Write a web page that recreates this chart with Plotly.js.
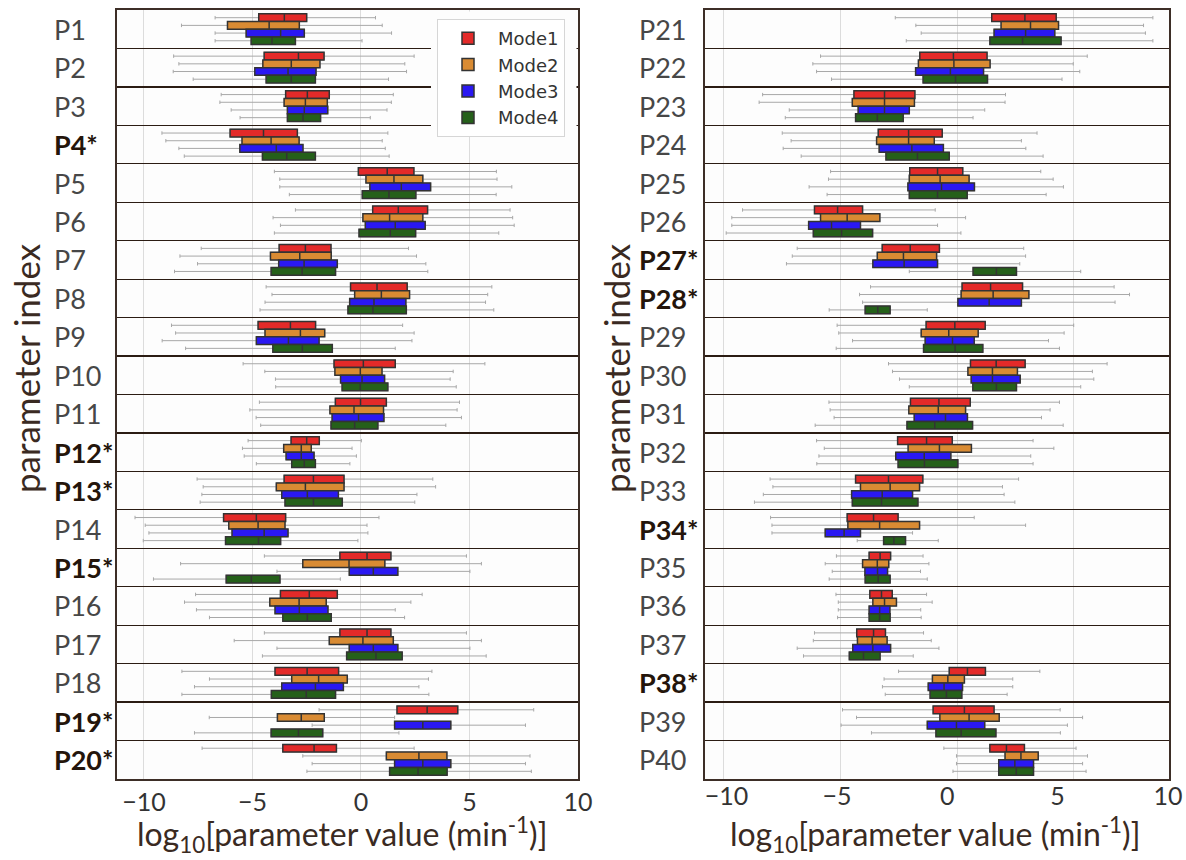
<!DOCTYPE html>
<html>
<head>
<meta charset="utf-8">
<script src="https://cdn.plot.ly/plotly-3.0.1.min.js"></script>
<style>
  html, body { margin: 0; padding: 0; background: #ffffff; }
  #chart { width: 1186px; height: 860px; }
</style>
</head>
<body>
<div id="chart"></div>
<script>
// ---------------- data ----------------
const params = ['P1','P2','P3','P4','P5','P6','P7','P8','P9','P10',
                'P11','P12','P13','P14','P15','P16','P17','P18','P19','P20',
                'P21','P22','P23','P24','P25','P26','P27','P28','P29','P30',
                'P31','P32','P33','P34','P35','P36','P37','P38','P39','P40'];
const starred = ['P4','P12','P13','P15','P19','P20','P27','P28','P34','P38'];
const modes = ['Mode1','Mode2','Mode3','Mode4'];
const xTicks = [-10, -5, 0, 5, 10];

// log10 parameter value statistics, P1..P40
const mode1_q1  = [-4.71,-4.46,-3.47,-6.03,-0.12,0.54,-3.77,-0.48,-4.74,-1.24,-1.18,-3.22,-3.54,-6.33,-0.97,-3.71,-0.97,-3.96,1.66,-3.60,
                   1.48,-1.60,-4.42,-3.38,-2.03,-6.11,-3.21,0.21,-1.33,0.57,-2.00,-2.55,-4.35,-4.71,-3.77,-3.74,-4.30,-0.34,-1.03,1.40];
const mode1_med = [-3.53,-2.88,-2.47,-4.49,1.21,1.72,-2.56,0.74,-3.25,0.11,-0.02,-2.50,-2.19,-4.82,0.28,-2.38,0.28,-2.48,3.05,-2.16,
                   2.90,-0.16,-3.11,-2.08,-0.84,-5.12,-2.01,1.43,-0.10,1.67,-0.78,-1.31,-2.94,-3.58,-3.30,-3.24,-3.58,0.44,0.31,2.11];
const mode1_q3  = [-2.50,-1.70,-1.46,-2.93,2.44,3.07,-1.38,2.13,-2.09,1.58,1.17,-1.92,-0.78,-3.47,1.38,-1.09,1.38,-1.03,4.46,-1.13,
                   4.24,1.28,-1.81,-0.64,0.24,-4.05,-0.76,2.80,1.20,2.91,0.56,-0.21,-1.47,-2.53,-2.85,-2.78,-3.07,1.21,1.58,2.88];
const mode1_lo  = [-6.72,-8.63,-6.44,-9.17,-3.99,-3.02,-7.36,-4.37,-8.73,-5.43,-4.68,-5.20,-7.55,-10.41,-4.45,-7.62,-4.45,-8.25,-1.93,-7.32,
                   -2.65,-5.85,-8.33,-7.49,-5.42,-9.19,-6.85,-3.71,-5.14,-2.94,-5.49,-6.02,-8.01,-7.99,-5.17,-5.19,-6.11,-2.51,-4.91,-0.57];
const mode1_hi  = [0.67,2.45,1.49,1.24,6.24,6.87,2.19,6.03,1.92,5.71,4.54,0.02,3.31,0.83,4.86,2.82,4.86,3.27,7.96,2.45,
                   8.38,5.57,2.07,3.42,3.58,-0.94,2.85,6.72,4.99,6.42,4.38,3.25,2.63,0.73,-1.46,-1.31,-1.44,3.54,4.41,5.09];

const mode2_q1  = [-6.15,-4.52,-3.54,-5.48,0.23,0.09,-4.17,-0.29,-4.42,-1.20,-1.43,-3.56,-3.90,-6.09,-2.68,-4.20,-1.46,-3.19,-3.85,1.17,
                   1.88,-1.66,-4.49,-3.45,-2.05,-5.85,-3.42,0.17,-1.54,0.46,-2.07,-2.10,-4.14,-4.68,-4.05,-3.61,-4.27,-1.06,-0.74,2.05];
const mode2_med = [-4.23,-3.21,-2.56,-4.14,1.52,1.32,-2.82,0.94,-2.79,-0.03,-0.32,-2.75,-2.56,-4.74,-0.55,-2.85,0.09,-1.95,-2.75,2.67,
                   3.14,-0.14,-3.11,-2.08,-0.73,-4.71,-2.30,1.54,-0.36,1.51,-0.81,-0.76,-2.87,-3.32,-3.42,-3.11,-3.64,-0.40,0.51,2.73];
const mode2_q3  = [-2.84,-1.89,-1.55,-2.85,2.85,2.85,-1.37,2.24,-1.67,0.97,1.04,-2.29,-0.78,-3.50,1.10,-1.60,1.49,-0.63,-1.69,3.96,
                   4.34,1.41,-1.83,-0.98,0.51,-3.31,-0.88,3.07,0.90,2.58,0.36,0.61,-1.61,-1.61,-2.93,-2.60,-3.00,0.31,1.80,3.47];
const mode2_lo  = [-8.27,-8.39,-6.50,-8.99,-3.74,-4.05,-8.34,-4.10,-8.54,-4.43,-5.12,-5.46,-7.27,-9.94,-8.31,-8.13,-5.84,-6.98,-6.99,-2.68,
                   -1.77,-6.18,-8.48,-7.11,-5.51,-9.65,-7.06,-4.18,-5.07,-2.77,-5.44,-5.69,-7.89,-7.93,-5.65,-5.09,-6.16,-3.13,-4.31,-0.03];
const mode2_hi  = [0.98,2.02,1.40,0.98,6.27,6.99,2.56,5.84,2.45,4.25,4.43,-0.41,3.44,0.28,5.55,2.30,5.55,3.11,1.55,7.79,
                   7.98,4.97,2.05,2.75,4.11,0.36,2.93,7.38,4.58,5.79,3.98,4.14,1.94,2.93,-1.21,-1.07,-1.11,2.38,5.37,5.58];

const mode3_q1  = [-5.29,-4.89,-3.39,-5.58,0.41,0.20,-3.79,-0.52,-4.82,-0.94,-1.33,-3.45,-3.65,-5.94,-0.54,-3.96,-0.54,-3.65,1.55,1.55,
                   1.58,-1.78,-4.24,-3.34,-2.11,-6.36,-3.61,0.03,-1.37,0.60,-1.84,-2.63,-4.52,-5.65,-3.95,-3.77,-4.47,-1.24,-1.28,1.78];
const mode3_med = [-3.70,-3.36,-2.61,-3.90,1.86,1.58,-2.62,0.60,-3.34,0.05,-0.11,-2.75,-2.47,-4.46,0.57,-2.84,0.57,-2.10,2.85,2.85,
                   2.93,-0.29,-3.11,-1.94,-0.67,-5.38,-2.27,1.37,-0.20,1.51,-0.50,-1.41,-3.21,-4.84,-3.41,-3.32,-3.61,-0.56,-0.03,2.47];
const mode3_q3  = [-2.61,-2.07,-1.53,-2.67,3.21,2.96,-1.09,2.07,-1.93,1.09,1.06,-2.16,-1.04,-3.36,1.70,-1.52,1.70,-0.81,4.14,4.14,
                   4.18,1.13,-2.05,-0.59,0.74,-4.14,-0.84,2.75,0.73,2.70,0.44,-0.27,-1.91,-4.14,-2.98,-2.88,-2.85,0.23,1.18,3.27];
const mode3_lo  = [-6.72,-8.65,-5.98,-8.39,-3.74,-3.71,-7.53,-4.42,-9.16,-3.94,-4.83,-5.38,-7.33,-9.77,-3.87,-7.58,-3.87,-7.67,-2.25,-2.25,
                   -1.54,-6.02,-7.19,-7.45,-6.34,-9.65,-7.31,-4.05,-4.48,-2.47,-5.27,-5.92,-8.30,-7.93,-5.35,-5.09,-6.85,-3.20,-4.97,-0.03];
const mode3_hi  = [1.41,2.10,1.20,1.12,6.95,7.06,2.99,5.74,2.35,4.11,4.63,-0.21,2.58,0.32,5.02,1.58,5.02,2.67,7.58,7.58,
                   8.06,5.25,1.18,2.94,4.55,-0.84,2.68,6.76,3.91,5.85,3.61,3.15,2.01,-1.91,-1.57,-1.56,-0.78,2.38,4.72,5.37];

const mode4_q1  = [-5.06,-4.37,-3.39,-4.54,0.06,-0.09,-4.14,-0.60,-4.06,-0.87,-1.38,-3.19,-3.50,-6.24,-6.21,-3.60,-0.66,-4.13,-4.14,1.32,
                   1.40,-1.46,-4.35,-3.05,-2.05,-6.16,0.68,-3.94,-1.44,0.67,-2.15,-2.53,-4.49,-3.15,-3.94,-3.77,-4.62,-1.16,-0.91,1.78];
const mode4_med = [-4.10,-3.21,-2.67,-3.42,1.29,1.35,-2.71,0.55,-2.70,-0.03,-0.29,-2.61,-2.19,-4.72,-5.05,-2.47,0.69,-2.52,-2.88,2.63,
                   2.80,-0.07,-3.42,-1.70,-0.84,-4.95,1.68,-3.40,-0.09,1.68,-0.96,-1.40,-3.24,-2.71,-3.38,-3.32,-4.01,-0.46,0.17,2.53];
const mode4_q3  = [-3.02,-2.10,-1.86,-2.10,2.53,2.52,-1.17,2.09,-1.32,1.24,0.78,-2.10,-0.86,-3.70,-3.73,-1.37,1.90,-1.17,-1.76,3.97,
                   4.45,1.30,-2.31,-0.34,0.43,-3.62,2.54,-2.87,1.10,2.54,0.66,0.03,-1.68,-2.21,-2.87,-2.87,-3.30,0.20,1.66,3.27];
const mode4_lo  = [-6.72,-7.73,-5.57,-8.14,-3.30,-3.99,-8.59,-4.65,-8.08,-3.93,-4.62,-4.82,-7.41,-10.03,-9.56,-6.98,-4.54,-8.25,-7.67,-2.49,
                   -2.18,-5.38,-7.36,-6.68,-5.57,-9.89,-2.05,-5.48,-5.18,-2.05,-6.08,-6.01,-8.68,-4.28,-5.48,-5.12,-6.58,-3.08,-3.67,-0.18];
const mode4_hi  = [0.05,1.27,0.43,1.30,6.23,6.35,3.08,6.12,1.58,4.39,3.91,-0.51,2.48,-0.14,-0.95,2.01,5.77,3.13,1.75,7.85,
                   8.38,4.49,0.68,3.68,3.81,0.16,5.29,-1.28,4.38,5.29,4.54,3.25,2.47,-0.81,-1.28,-1.54,-1.88,2.14,4.42,5.52];

// ---------------- styling ----------------
const modeColors = ['#e32a29', '#d98b33', '#2a18f2', '#25601a'];
const FONT = "Lato, 'Noto Sans', sans-serif";
const q1s  = [mode1_q1, mode2_q1, mode3_q1, mode4_q1];
const meds = [mode1_med, mode2_med, mode3_med, mode4_med];
const q3s  = [mode1_q3, mode2_q3, mode3_q3, mode4_q3];
const los  = [mode1_lo, mode2_lo, mode3_lo, mode4_lo];
const his  = [mode1_hi, mode2_hi, mode3_hi, mode4_hi];

const panels = [
  {start: 0,  xa: 'x',  ya: 'y',  labelX: 52 / 1186},
  {start: 20, xa: 'x2', ya: 'y2', labelX: 637 / 1186}
];

const whiskerTraces = [];
const boxTraces = [];
const labelAnnotations = [];
panels.forEach((pn, pi) => {
  const sl = arr => arr.slice(pn.start, pn.start + 20);
  const cats = sl(params);
  modes.forEach((mode, mi) => {
    whiskerTraces.push({
      type: 'box', orientation: 'h', name: mode,
      y: cats, q1: sl(q1s[mi]), median: sl(meds[mi]), q3: sl(q3s[mi]),
      lowerfence: sl(los[mi]), upperfence: sl(his[mi]),
      xaxis: pn.xa, yaxis: pn.ya,
      offsetgroup: mode + '_' + pi, alignmentgroup: 'panel' + pi,
      line: {color: '#a8a8a8', width: 1},
      fillcolor: 'rgba(0,0,0,0)',
      whiskerwidth: 0.45, boxpoints: false,
      showlegend: false, hoverinfo: 'skip'
    });
    boxTraces.push({
      type: 'box', orientation: 'h', name: mode, legendgroup: mode,
      y: cats, q1: sl(q1s[mi]), median: sl(meds[mi]), q3: sl(q3s[mi]),
      lowerfence: sl(q1s[mi]), upperfence: sl(q3s[mi]),
      xaxis: pn.xa, yaxis: pn.ya,
      offsetgroup: mode + '_' + pi, alignmentgroup: 'panel' + pi,
      line: {color: '#333333', width: 1.5},
      fillcolor: modeColors[mi],
      whiskerwidth: 0, boxpoints: false,
      showlegend: pi === 0
    });
  });
  // left-aligned parameter labels (as in the reference)
  cats.forEach(c => {
    const isStar = starred.includes(c);
    labelAnnotations.push({
      text: isStar ? '<b>' + c + '*</b>' : c,
      xref: 'paper', yref: pn.ya, x: pn.labelX, y: c,
      xanchor: 'left', yanchor: 'middle', showarrow: false,
      font: {family: FONT, size: 27, color: isStar ? '#24150b' : '#474747'}
    });
  });
});

// empty trace so that the overlaying label axis of the right panel is drawn
const labelAxisTrace = {type: 'scatter', x: [], y: [], xaxis: 'x3', yaxis: 'y2',
                        showlegend: false, hoverinfo: 'skip'};

const yDomain = [1 - 779 / 860, 1 - 10 / 860];
function yAxis(cats, anchor) {
  return {
    domain: yDomain, anchor: anchor,
    type: 'category', categoryorder: 'array', categoryarray: cats,
    autorange: 'reversed',
    tickson: 'boundaries', ticks: '', showticklabels: false,
    showgrid: true, gridcolor: '#2b1c13', gridwidth: 1.2,
    zeroline: false,
    showline: true, mirror: true, linecolor: '#3d2e27', linewidth: 2
  };
}
const xCommon = {
  showgrid: true, gridcolor: '#dcdcdc', gridwidth: 1,
  zeroline: false, ticks: '',
  showline: true, mirror: true, linecolor: '#3d2e27', linewidth: 2,
  tickfont: {family: FONT, size: 25, color: '#333333'}
};

const xTitle = 'log<sub>10</sub>[parameter value (min<sup>-1</sup>)]';

const layout = {
  width: 1186, height: 860,
  margin: {l: 0, r: 0, t: 0, b: 0},
  paper_bgcolor: '#ffffff', plot_bgcolor: '#fdfdfd',
  boxmode: 'group', boxgap: 0.2, boxgroupgap: 0,
  showlegend: true,
  xaxis: Object.assign({}, xCommon, {
    domain: [117 / 1186, 578 / 1186], anchor: 'y',
    range: [-11.24, 10.0], tickmode: 'array', tickvals: xTicks
  }),
  xaxis2: Object.assign({}, xCommon, {
    domain: [704.7 / 1186, 1169 / 1186], anchor: 'y2',
    range: [-10.81, 9.07], tickmode: 'array', tickvals: xTicks,
    showticklabels: false
  }),
  // tick labels of the right panel (placed as in the reference)
  xaxis3: {
    overlaying: 'x2', anchor: 'y2', side: 'bottom',
    range: [-10.99, 10.05], tickmode: 'array', tickvals: xTicks,
    showgrid: false, zeroline: false, showline: false, ticks: '',
    tickfont: {family: FONT, size: 25, color: '#333333'}
  },
  yaxis: yAxis(params.slice(0, 20), 'x'),
  yaxis2: yAxis(params.slice(20), 'x2'),
  legend: {
    x: 437 / 1186, y: 1 - 19 / 860, xanchor: 'left', yanchor: 'top',
    bgcolor: '#ffffff', bordercolor: '#d6d6d6', borderwidth: 1,
    font: {family: "'DejaVu Sans', sans-serif", size: 18, color: '#333333'},
    itemwidth: 50, traceorder: 'normal'
  },
  shapes: [{
    type: 'rect', xref: 'paper', yref: 'paper', layer: 'above',
    x0: 431 / 1186, x1: 576.5 / 1186, y0: 1 - 137 / 860, y1: 1 - 11.5 / 860,
    fillcolor: '#fdfdfd', line: {width: 0}
  }],
  annotations: labelAnnotations.concat([
    {text: 'parameter index', xref: 'paper', yref: 'paper',
     x: 26 / 1186, y: 1 - 368 / 860, textangle: -90, showarrow: false,
     xanchor: 'center', yanchor: 'middle',
     font: {family: FONT, size: 35, color: '#3a2a22'}},
    {text: 'parameter index', xref: 'paper', yref: 'paper',
     x: 616 / 1186, y: 1 - 368 / 860, textangle: -90, showarrow: false,
     xanchor: 'center', yanchor: 'middle',
     font: {family: FONT, size: 35, color: '#3a2a22'}},
    {text: xTitle, xref: 'paper', yref: 'paper',
     x: 342 / 1186, y: 1 - 834 / 860, showarrow: false,
     xanchor: 'center', yanchor: 'middle',
     font: {family: FONT, size: 32, color: '#3a2a22'}},
    {text: xTitle, xref: 'paper', yref: 'paper',
     x: 935 / 1186, y: 1 - 834 / 860, showarrow: false,
     xanchor: 'center', yanchor: 'middle',
     font: {family: FONT, size: 32, color: '#3a2a22'}}
  ])
};

Plotly.newPlot('chart', whiskerTraces.concat(boxTraces, [labelAxisTrace]), layout,
               {displayModeBar: false, staticPlot: true});
</script>
</body>
</html>
